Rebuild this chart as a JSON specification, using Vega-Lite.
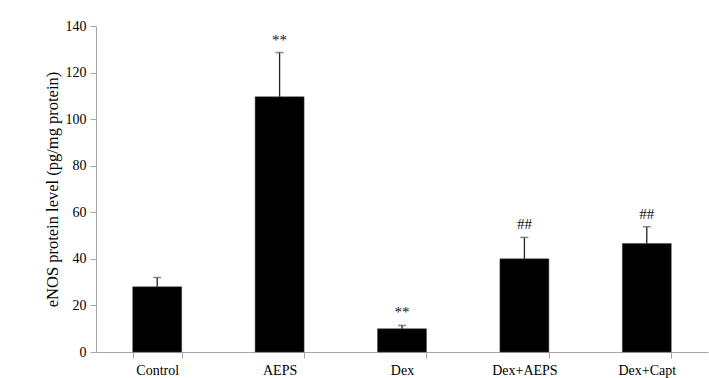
{
  "$schema": "https://vega.github.io/schema/vega-lite/v6.json",
  "width": 612,
  "height": 326,
  "autosize": "none",
  "padding": {"left": 96, "top": 26, "right": 1, "bottom": 26},
  "background": "white",
  "config": {
    "view": {"stroke": null},
    "font": "Liberation Serif",
    "axis": {"labelFont": "Liberation Serif", "titleFont": "Liberation Serif", "labelColor": "#000", "titleColor": "#000", "domainColor": "#a6a6a6", "tickColor": "#a6a6a6"}
  },
  "data": {
    "values": [
      {"group": "Control", "mean": 28, "upper": 32, "label": ""},
      {"group": "AEPS", "mean": 109.6, "upper": 128.6, "label": "**"},
      {"group": "Dex", "mean": 10, "upper": 11.4, "label": "**"},
      {"group": "Dex+AEPS", "mean": 40, "upper": 49.2, "label": "##"},
      {"group": "Dex+Capt", "mean": 46.6, "upper": 53.8, "label": "##"}
    ]
  },
  "encoding": {
    "x": {
      "field": "group", "type": "nominal", "sort": null,
      "scale": {"paddingInner": 0.6, "paddingOuter": 0.3},
      "axis": {"title": null, "labelAngle": 0, "labelFontSize": 14, "labelPadding": 5, "tickBand": "extent", "tickSize": 6, "grid": false}
    }
  },
  "layer": [
    {
      "mark": {"type": "bar", "color": "#000", "stroke": "#444", "strokeWidth": 0.5},
      "encoding": {
        "y": {
          "field": "mean", "type": "quantitative",
          "scale": {"domain": [0, 140]},
          "axis": {"title": "eNOS protein level (pg/mg protein)", "titleFontSize": 16.5, "titleFontWeight": "normal", "titlePadding": 5, "labelFontSize": 14, "values": [0, 20, 40, 60, 80, 100, 120, 140], "grid": false, "tickSize": 6, "labelPadding": 4}
        }
      }
    },
    {
      "mark": {"type": "rule", "color": "#222", "strokeWidth": 1.3},
      "encoding": {
        "y": {"field": "mean", "type": "quantitative"},
        "y2": {"field": "upper"}
      }
    },
    {
      "mark": {"type": "tick", "color": "#555", "size": 8, "thickness": 1.5, "orient": "horizontal"},
      "encoding": {
        "y": {"field": "upper", "type": "quantitative"}
      }
    },
    {
      "mark": {"type": "text", "font": "Liberation Serif", "fontSize": 15, "dy": -13, "color": "#111"},
      "encoding": {
        "y": {"field": "upper", "type": "quantitative"},
        "text": {"field": "label"}
      }
    }
  ]
}
